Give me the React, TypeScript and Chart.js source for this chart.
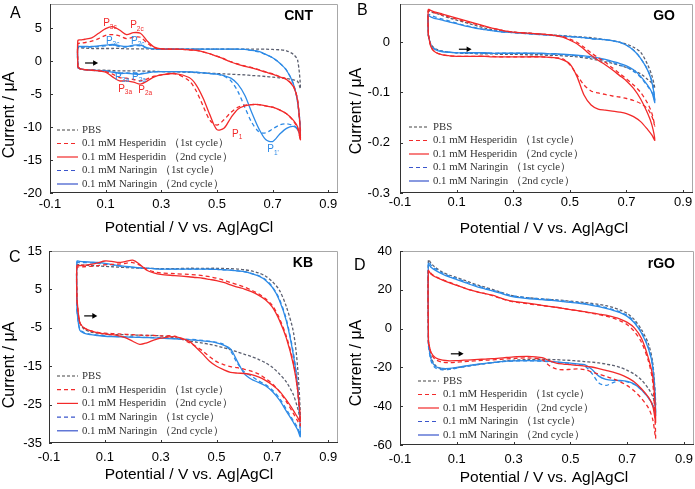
import React, { useEffect, useRef } from "react";
import { Chart, registerables } from "chart.js";

Chart.register(...registerables);

// ---------- shared data ----------
// potential grid (V vs Ag|AgCl), used for forward (anodic) and reverse scans
const potentials = [0, 0.01, 0.025, 0.05, 0.075, 0.1, 0.125, 0.15, 0.175, 0.2, 0.225, 0.25, 0.275, 0.3, 0.35, 0.4, 0.425, 0.45, 0.475, 0.5, 0.525, 0.55, 0.575, 0.6, 0.625, 0.65, 0.675, 0.7, 0.725, 0.75, 0.775, 0.79, 0.8];
const xTicks = [-0.1, 0.1, 0.3, 0.5, 0.7, 0.9];
const legendLabels = ["PBS", "0.1 mM Hesperidin （1st cycle）", "0.1 mM Hesperidin （2nd cycle）", "0.1 mM Naringin （1st cycle）", "0.1 mM Naringin （2nd cycle）"];
const xTitle = "Potential / V vs. Ag|AgCl";
const yTitle = "Current / μA";

// ---------- panel A: CNT (μA) ----------
const aPbsF = [-1.0, -1.2, -1.3, -1.35, -1.4, -1.4, -1.45, -1.5, -1.5, -1.5, -1.5, -1.55, -1.55, -1.6, -1.65, -1.7, -1.75, -1.8, -1.85, -1.9, -1.95, -2.0, -2.05, -2.1, -2.2, -2.25, -2.35, -2.45, -2.55, -2.65, -2.85, -3.1, -4.2];
const aPbsR = [2.0, 2.0, 1.95, 1.9, 1.9, 1.9, 1.9, 1.9, 1.85, 1.85, 1.85, 1.85, 1.8, 1.8, 1.8, 1.8, 1.8, 1.8, 1.8, 1.8, 1.8, 1.8, 1.8, 1.8, 1.8, 1.8, 1.8, 1.75, 1.7, 1.55, 1.0, 0.1, -4.2];
const aHes1F = [-0.9, -1.2, -1.3, -1.4, -1.5, -1.6, -2.0, -2.5, -2.6, -2.8, -3.0, -2.7, -2.3, -2.1, -1.95, -3.0, -4.5, -6.8, -9.0, -9.7, -8.9, -7.8, -7.0, -6.7, -6.6, -6.6, -6.8, -7.0, -7.4, -8.0, -9.1, -10.2, -11.9];
const aHes1R = [2.6, 2.7, 2.8, 3.0, 3.4, 3.9, 4.0, 3.8, 3.4, 3.6, 3.6, 2.7, 2.0, 1.85, 1.8, 1.7, 1.6, 1.4, 1.1, 0.75, 0.35, -0.1, -0.45, -0.75, -1.0, -1.3, -1.65, -1.95, -2.35, -2.75, -3.8, -6.0, -11.9];
const aHes2F = [-0.9, -1.2, -1.3, -1.4, -1.5, -1.7, -2.4, -3.0, -3.0, -3.2, -3.5, -3.0, -2.4, -2.1, -1.9, -2.5, -3.6, -5.6, -8.2, -10.4, -10.2, -8.6, -7.3, -6.8, -6.6, -6.6, -6.8, -7.0, -7.4, -8.0, -9.0, -10.0, -11.9];
const aHes2R = [3.1, 3.2, 3.3, 3.5, 4.2, 4.9, 5.2, 4.7, 4.0, 4.3, 4.2, 3.0, 2.1, 1.85, 1.8, 1.7, 1.6, 1.4, 1.1, 0.7, 0.3, -0.15, -0.5, -0.8, -1.05, -1.35, -1.7, -2.0, -2.4, -2.8, -3.9, -6.0, -11.9];
const aNar1F = [-1.0, -1.2, -1.3, -1.4, -1.45, -1.5, -1.65, -1.8, -1.8, -1.9, -1.9, -1.75, -1.65, -1.6, -1.6, -1.65, -1.7, -1.8, -1.9, -2.0, -2.3, -3.0, -4.6, -7.0, -9.3, -10.7, -10.9, -10.3, -9.7, -9.5, -9.8, -10.2, -10.6];
const aNar1R = [2.1, 2.1, 2.1, 2.1, 2.2, 2.3, 2.4, 2.2, 2.1, 2.3, 2.3, 1.95, 1.85, 1.8, 1.8, 1.8, 1.8, 1.8, 1.8, 1.8, 1.8, 1.8, 1.8, 1.75, 1.6, 1.4, 1.0, 0.5, -0.3, -1.4, -3.5, -6.2, -10.6];
const aNar2F = [-1.0, -1.2, -1.3, -1.4, -1.45, -1.5, -1.7, -1.9, -1.85, -1.95, -2.0, -1.8, -1.65, -1.6, -1.6, -1.65, -1.7, -1.8, -1.9, -2.0, -2.2, -2.6, -3.5, -5.2, -7.8, -10.2, -11.9, -12.2, -11.1, -10.2, -9.9, -10.4, -11.3];
const aNar2R = [2.2, 2.2, 2.2, 2.2, 2.3, 2.4, 2.5, 2.3, 2.2, 2.4, 2.4, 2.0, 1.85, 1.8, 1.8, 1.8, 1.8, 1.8, 1.8, 1.8, 1.8, 1.8, 1.8, 1.75, 1.6, 1.45, 1.0, 0.5, -0.3, -1.4, -3.5, -6.3, -11.3];

// ---------- panel B: GO (μA) ----------
const bPbsF = [0.012, -0.005, -0.013, -0.018, -0.02, -0.021, -0.022, -0.022, -0.023, -0.023, -0.023, -0.024, -0.024, -0.024, -0.025, -0.025, -0.026, -0.026, -0.027, -0.028, -0.029, -0.031, -0.033, -0.036, -0.039, -0.042, -0.046, -0.05, -0.056, -0.063, -0.074, -0.082, -0.092];
const bPbsR = [0.062, 0.06, 0.058, 0.053, 0.048, 0.044, 0.04, 0.036, 0.032, 0.028, 0.025, 0.023, 0.021, 0.02, 0.018, 0.016, 0.015, 0.014, 0.013, 0.012, 0.011, 0.01, 0.009, 0.007, 0.005, 0.003, 0.0, -0.004, -0.01, -0.02, -0.045, -0.067, -0.092];
const bHes1F = [0.015, -0.01, -0.02, -0.025, -0.027, -0.028, -0.028, -0.028, -0.028, -0.028, -0.028, -0.029, -0.029, -0.029, -0.029, -0.029, -0.03, -0.031, -0.033, -0.045, -0.065, -0.085, -0.097, -0.101, -0.104, -0.107, -0.109, -0.112, -0.116, -0.122, -0.133, -0.148, -0.167];
const bHes1R = [0.063, 0.061, 0.058, 0.054, 0.05, 0.046, 0.042, 0.038, 0.035, 0.031, 0.028, 0.025, 0.022, 0.02, 0.018, 0.016, 0.015, 0.013, 0.011, 0.006, 0.0, -0.01, -0.021, -0.031, -0.04, -0.051, -0.062, -0.073, -0.085, -0.1, -0.122, -0.142, -0.167];
const bHes2F = [0.015, -0.01, -0.02, -0.025, -0.027, -0.028, -0.028, -0.028, -0.028, -0.028, -0.029, -0.029, -0.029, -0.029, -0.029, -0.029, -0.03, -0.031, -0.035, -0.043, -0.068, -0.105, -0.125, -0.133, -0.135, -0.137, -0.139, -0.142, -0.148, -0.158, -0.174, -0.185, -0.195];
const bHes2R = [0.065, 0.063, 0.06, 0.056, 0.052, 0.048, 0.044, 0.04, 0.036, 0.032, 0.028, 0.025, 0.022, 0.02, 0.018, 0.016, 0.015, 0.013, 0.01, 0.004, -0.003, -0.014, -0.026, -0.036, -0.045, -0.055, -0.066, -0.077, -0.092, -0.113, -0.142, -0.165, -0.195];
const bNar1F = [0.015, -0.006, -0.014, -0.018, -0.02, -0.021, -0.021, -0.021, -0.022, -0.022, -0.022, -0.022, -0.022, -0.022, -0.022, -0.023, -0.023, -0.024, -0.025, -0.026, -0.027, -0.029, -0.031, -0.033, -0.036, -0.04, -0.045, -0.05, -0.058, -0.07, -0.088, -0.1, -0.115];
const bNar1R = [0.055, 0.053, 0.05, 0.046, 0.042, 0.038, 0.034, 0.031, 0.028, 0.025, 0.023, 0.021, 0.02, 0.019, 0.017, 0.015, 0.014, 0.013, 0.012, 0.011, 0.01, 0.009, 0.007, 0.006, 0.005, 0.003, 0.0, -0.006, -0.016, -0.032, -0.055, -0.078, -0.115];
const bNar2F = [0.015, -0.008, -0.015, -0.019, -0.02, -0.021, -0.021, -0.021, -0.021, -0.021, -0.022, -0.022, -0.022, -0.022, -0.022, -0.022, -0.023, -0.023, -0.024, -0.025, -0.026, -0.027, -0.029, -0.031, -0.034, -0.038, -0.042, -0.047, -0.055, -0.068, -0.086, -0.1, -0.12];
const bNar2R = [0.052, 0.05, 0.047, 0.044, 0.04, 0.037, 0.033, 0.03, 0.027, 0.025, 0.023, 0.021, 0.02, 0.019, 0.017, 0.015, 0.014, 0.013, 0.012, 0.011, 0.01, 0.009, 0.007, 0.006, 0.005, 0.003, 0.0, -0.006, -0.016, -0.032, -0.056, -0.08, -0.12];

// ---------- panel C: KB (μA) ----------
const cPbsF = [1.5, -3.6, -5.3, -6.1, -6.4, -6.6, -6.7, -6.8, -6.8, -6.9, -6.9, -7.0, -7.0, -7.1, -7.6, -8.4, -8.7, -9.0, -9.3, -9.7, -10.2, -10.7, -11.3, -11.9, -12.5, -13.2, -14.1, -15.3, -17.0, -19.1, -22.4, -25.8, -28.5];
const cPbsR = [11.4, 11.4, 11.3, 11.2, 11.1, 11.0, 10.9, 10.8, 10.7, 10.6, 10.55, 10.5, 10.45, 10.4, 10.4, 10.5, 10.5, 10.5, 10.5, 10.5, 10.45, 10.4, 10.3, 10.1, 9.8, 9.3, 8.5, 7.0, 4.8, 0.5, -6.0, -15.0, -28.5];
const cHes1F = [2.0, -3.5, -5.0, -5.8, -6.2, -6.4, -6.5, -6.6, -6.7, -6.8, -6.9, -7.0, -7.0, -7.1, -7.2, -8.8, -9.8, -11.0, -12.5, -13.8, -14.6, -15.1, -15.4, -15.8, -16.3, -17.0, -18.2, -19.6, -21.6, -24.2, -27.3, -29.2, -30.5];
const cHes1R = [10.8, 10.8, 10.9, 11.0, 11.2, 11.4, 11.5, 11.6, 11.8, 12.0, 11.3, 10.3, 9.6, 9.3, 9.1, 8.9, 8.8, 8.6, 8.3, 7.9, 7.4, 6.8, 6.2, 5.6, 4.8, 3.9, 2.6, 0.8, -2.5, -7.2, -14.0, -21.0, -30.5];
const cHes2F = [2.5, -3.6, -5.0, -5.8, -6.3, -6.6, -6.8, -7.1, -7.6, -8.5, -9.3, -8.9, -8.2, -7.7, -7.3, -8.4, -10.0, -11.8, -13.7, -15.0, -15.9, -16.6, -16.8, -16.9, -17.2, -17.8, -18.7, -19.9, -21.5, -23.8, -26.5, -28.3, -29.4];
const cHes2R = [11.2, 11.2, 11.3, 11.5, 11.9, 12.4, 12.3, 12.0, 12.3, 12.6, 11.5, 10.0, 9.3, 8.9, 8.6, 8.3, 8.1, 7.9, 7.6, 7.3, 6.8, 6.2, 5.6, 5.1, 4.4, 3.5, 2.3, 0.4, -3.0, -7.7, -14.5, -21.0, -29.4];
const cNar1F = [-0.5, -5.3, -6.2, -6.7, -6.9, -7.1, -7.2, -7.3, -7.35, -7.4, -7.45, -7.5, -7.55, -7.6, -7.8, -8.0, -8.1, -8.3, -8.5, -8.8, -9.3, -11.0, -14.3, -16.5, -17.6, -18.8, -19.8, -21.2, -23.3, -26.2, -29.2, -31.0, -33.0];
const cNar1R = [12.0, 12.0, 12.0, 11.9, 11.8, 11.6, 11.4, 11.1, 10.9, 10.7, 10.6, 10.5, 10.4, 10.3, 10.3, 10.3, 10.3, 10.3, 10.3, 10.2, 10.1, 10.0, 9.8, 9.6, 9.2, 8.6, 7.6, 5.7, 2.5, -2.8, -11.5, -20.0, -33.0];
const cNar2F = [-0.5, -5.6, -6.4, -6.8, -7.0, -7.2, -7.3, -7.35, -7.4, -7.45, -7.5, -7.55, -7.6, -7.7, -7.9, -8.1, -8.2, -8.4, -8.6, -8.9, -9.5, -10.5, -13.8, -17.0, -18.4, -19.2, -20.1, -21.6, -23.8, -26.7, -29.6, -31.5, -33.3];
const cNar2R = [12.3, 12.3, 12.2, 12.1, 12.0, 11.8, 11.5, 11.2, 11.0, 10.8, 10.6, 10.5, 10.4, 10.3, 10.3, 10.3, 10.3, 10.3, 10.25, 10.2, 10.1, 10.0, 9.8, 9.6, 9.1, 8.5, 7.4, 5.5, 2.2, -3.2, -12.0, -20.0, -33.3];

// ---------- panel D: rGO (μA) ----------
const dPbsF = [-6.0, -15.0, -19.0, -20.8, -20.8, -20.2, -19.6, -19.0, -18.5, -18.0, -17.5, -17.0, -16.6, -16.3, -15.9, -15.8, -15.9, -16.0, -16.2, -16.4, -16.7, -17.0, -17.3, -17.7, -18.3, -19.0, -20.0, -21.5, -23.5, -26.5, -31.0, -35.0, -40.0];
const dPbsR = [35.5, 33.5, 31.5, 29.0, 27.5, 26.3, 25.0, 23.6, 22.4, 21.3, 20.2, 19.0, 17.8, 16.8, 15.9, 15.3, 15.0, 14.8, 14.5, 14.1, 13.8, 13.4, 13.0, 12.5, 11.8, 10.9, 9.6, 7.8, 4.6, -0.5, -8.0, -18.0, -40.0];
const dHes1F = [-7.0, -13.0, -16.0, -17.3, -17.5, -17.3, -17.0, -16.8, -16.5, -16.3, -16.1, -15.9, -15.6, -15.4, -15.1, -16.0, -19.0, -20.8, -21.2, -21.0, -20.8, -21.2, -22.3, -23.5, -24.6, -25.9, -27.4, -29.4, -32.2, -36.0, -41.0, -47.0, -56.5];
const dHes1R = [30.0, 28.3, 26.8, 25.2, 23.8, 22.4, 21.0, 19.8, 18.8, 18.0, 17.0, 15.8, 14.6, 13.8, 12.8, 11.9, 11.4, 10.9, 10.4, 9.8, 9.2, 8.6, 7.9, 7.2, 6.4, 5.4, 4.0, 2.0, -1.5, -7.0, -17.0, -28.0, -56.5];
const dHes2F = [-7.0, -12.5, -15.0, -16.3, -16.6, -16.5, -16.3, -16.1, -15.9, -15.7, -15.5, -15.2, -14.9, -14.6, -14.3, -15.0, -16.5, -17.8, -18.3, -18.6, -19.0, -19.3, -19.8, -20.6, -21.5, -22.4, -23.6, -25.3, -27.5, -31.0, -35.5, -40.0, -48.3];
const dHes2R = [29.7, 28.0, 26.6, 25.0, 23.6, 22.3, 21.0, 19.8, 18.8, 18.0, 17.2, 16.0, 14.8, 14.0, 13.1, 12.0, 11.5, 11.0, 10.4, 9.8, 9.3, 8.7, 8.1, 7.5, 6.9, 6.0, 4.9, 3.2, 0.4, -5.0, -15.5, -25.0, -48.3];
const dNar1F = [-9.0, -17.0, -20.3, -21.2, -21.0, -20.4, -19.7, -19.1, -18.5, -18.0, -17.6, -17.2, -16.9, -16.7, -16.6, -16.8, -17.0, -17.4, -17.7, -18.0, -18.4, -19.2, -23.0, -28.0, -29.3, -27.8, -26.9, -27.4, -28.8, -31.6, -35.8, -39.5, -44.0];
const dNar1R = [34.5, 32.5, 30.8, 28.6, 27.0, 25.8, 24.5, 23.1, 21.9, 20.8, 19.8, 18.8, 17.7, 16.8, 15.9, 15.3, 15.0, 14.7, 14.3, 13.9, 13.5, 13.0, 12.6, 11.7, 10.8, 9.8, 8.6, 6.8, 3.6, -1.8, -10.0, -20.0, -44.0];
const dNar2F = [-8.0, -16.0, -19.5, -20.5, -20.5, -20.0, -19.4, -18.9, -18.3, -17.9, -17.5, -17.1, -16.8, -16.6, -16.5, -16.6, -16.9, -17.2, -17.5, -17.8, -18.2, -18.6, -21.0, -24.5, -26.2, -26.7, -26.7, -27.2, -28.6, -31.5, -35.7, -39.5, -44.8];
const dNar2R = [33.0, 31.5, 30.0, 28.0, 26.5, 25.3, 24.0, 22.6, 21.4, 20.4, 19.4, 18.4, 17.3, 16.4, 15.5, 14.9, 14.6, 14.3, 13.9, 13.5, 13.1, 12.6, 12.0, 11.3, 10.4, 9.4, 8.2, 6.3, 3.0, -2.3, -10.5, -20.0, -44.8];

// ---------- peak annotations (panel A) ----------
const peakSubs = ["3c", "2c", "3c", "2c", "3a", "2a", "3a", "2a", "1", "1'"];
const peakX = [0.091, 0.188, 0.101, 0.191, 0.134, 0.195, 0.145, 0.217, 0.554, 0.681];
const peakY = [5.3, 5.0, 2.6, 2.6, -2.85, -2.85, -4.65, -4.8, -11.45, -13.85];
const peakIsRed = [true, true, false, false, false, false, true, true, true, false];

// ---------- styles ----------
const RED = "#f22a2a";
const BLUE = "#2d8ae6";
const GRAY = "#5c6070";
const FONT = '"Liberation Sans", Arial, Helvetica, sans-serif';
const SERIF = '"Liberation Serif", "Times New Roman", serif';
const seriesStyles = [
  { color: GRAY, legend: "#444444", dash: [3, 2] },
  { color: RED, legend: RED, dash: [4, 3] },
  { color: RED, legend: RED, dash: [] as number[] },
  { color: BLUE, legend: "#3a55cc", dash: [4, 3] },
  { color: BLUE, legend: "#3a55cc", dash: [] as number[] },
];

interface PanelDef {
  letter: string;
  name: string;
  left: number;
  top: number;
  width: number;
  height: number;
  area: { l: number; t: number; r: number; b: number };
  yMin: number;
  yMax: number;
  yTicks: number[];
  series: number[][][];
  xTickPad: number;
  yTickPad: number;
  legend: { x0: number; x1: number; tx: number; y0: number; dy: number };
  arrow: number[];
  xTitlePos: number[];
  yTitlePos: number[];
  letterPos: number[];
  namePos: number[];
  peaks: boolean;
}

const panels: PanelDef[] = [
  {
    letter: "A", name: "CNT", left: 0, top: 0, width: 347, height: 245,
    area: { l: 50, t: 4, r: 338, b: 193 }, yMin: -20, yMax: 8.64, yTicks: [-20, -15, -10, -5, 0, 5],
    series: [[aPbsF, aPbsR], [aHes1F, aHes1R], [aHes2F, aHes2R], [aNar1F, aNar1R], [aNar2F, aNar2R]],
    xTickPad: 4, yTickPad: 8,
    legend: { x0: 57, x1: 78, tx: 82, y0: 130, dy: 13.5 },
    arrow: [0.026, 0.073, -0.3], xTitlePos: [189, 228], yTitlePos: [10, 115], letterPos: [10, 18], namePos: [313, 20], peaks: true,
  },
  {
    letter: "B", name: "GO", left: 347, top: 0, width: 360, height: 245,
    area: { l: 53, t: 4, r: 346, b: 193 }, yMin: -0.3, yMax: 0.076, yTicks: [-0.3, -0.2, -0.1, 0],
    series: [[bPbsF, bPbsR], [bHes1F, bHes1R], [bHes2F, bHes2R], [bNar1F, bNar1R], [bNar2F, bNar2R]],
    xTickPad: 2, yTickPad: 10,
    legend: { x0: 62, x1: 82, tx: 86, y0: 127, dy: 13.5 },
    arrow: [0.108, 0.153, -0.014], xTitlePos: [197, 229], yTitlePos: [10, 111], letterPos: [10, 15], namePos: [328, 20], peaks: false,
  },
  {
    letter: "C", name: "KB", left: 0, top: 245, width: 347, height: 244,
    area: { l: 49, t: 6, r: 338, b: 198 }, yMin: -35, yMax: 15, yTicks: [-35, -25, -15, -5, 5, 15],
    series: [[cPbsF, cPbsR], [cHes1F, cHes1R], [cHes2F, cHes2R], [cNar1F, cNar1R], [cNar2F, cNar2R]],
    xTickPad: 7, yTickPad: 7,
    legend: { x0: 57, x1: 78, tx: 82, y0: 131, dy: 13.7 },
    arrow: [0.026, 0.073, -1.9], xTitlePos: [189, 230], yTitlePos: [10, 120], letterPos: [9, 17], namePos: [313, 22], peaks: false,
  },
  {
    letter: "D", name: "rGO", left: 347, top: 245, width: 360, height: 244,
    area: { l: 53, t: 6, r: 347, b: 200 }, yMin: -60, yMax: 40, yTicks: [-60, -40, -20, 0, 20, 40],
    series: [[dPbsF, dPbsR], [dHes1F, dHes1R], [dHes2F, dHes2R], [dNar1F, dNar1R], [dNar2F, dNar2R]],
    xTickPad: 7, yTickPad: 8,
    legend: { x0: 71, x1: 92, tx: 96, y0: 136, dy: 13.5 },
    arrow: [0.079, 0.124, -13], xTitlePos: [197, 233], yTitlePos: [10, 118], letterPos: [7, 25], namePos: [328, 23], peaks: false,
  },
];

function cvLoop(fwd: number[], rev: number[]) {
  const pts = potentials.map((x, i) => ({ x, y: fwd[i] }));
  for (let i = potentials.length - 2; i >= 0; i--) pts.push({ x: potentials[i], y: rev[i] });
  pts.push({ x: potentials[0], y: fwd[0] });
  return pts;
}

function makeDecor(p: PanelDef) {
  return {
    id: "decor" + p.letter,
    afterDraw(chart: any) {
      const { ctx, chartArea: a } = chart;
      const xs = chart.scales.x;
      const ys = chart.scales.y;
      ctx.save();
      ctx.setLineDash([]);
      ctx.lineWidth = 1;
      // frame
      ctx.strokeStyle = "#a8a8a8";
      ctx.beginPath();
      ctx.moveTo(a.left, a.top + 0.5);
      ctx.lineTo(a.right - 0.5, a.top + 0.5);
      ctx.lineTo(a.right - 0.5, a.bottom);
      ctx.stroke();
      ctx.strokeStyle = "#333";
      ctx.beginPath();
      ctx.moveTo(a.left + 0.5, a.top);
      ctx.lineTo(a.left + 0.5, a.bottom - 0.5);
      ctx.lineTo(a.right, a.bottom - 0.5);
      ctx.stroke();
      // inward ticks
      ctx.beginPath();
      xTicks.forEach((v) => {
        const px = Math.round(xs.getPixelForValue(v)) + 0.5;
        ctx.moveTo(px, a.bottom);
        ctx.lineTo(px, a.bottom - 3);
      });
      p.yTicks.forEach((v) => {
        const py = Math.round(ys.getPixelForValue(v)) + 0.5;
        ctx.moveTo(a.left, py);
        ctx.lineTo(a.left + 3, py);
      });
      ctx.stroke();

      // legend
      ctx.font = "10.8px " + SERIF;
      ctx.textAlign = "left";
      ctx.textBaseline = "middle";
      legendLabels.forEach((label, i) => {
        const y = p.legend.y0 + i * p.legend.dy;
        const st = seriesStyles[i];
        ctx.strokeStyle = st.legend;
        ctx.lineWidth = 1.2;
        ctx.setLineDash(st.dash);
        ctx.beginPath();
        ctx.moveTo(p.legend.x0, y);
        ctx.lineTo(p.legend.x1, y);
        ctx.stroke();
        ctx.setLineDash([]);
        ctx.fillStyle = "#333";
        ctx.fillText(label, p.legend.tx, y);
      });

      // scan direction arrow
      const ax1 = xs.getPixelForValue(p.arrow[0]);
      const ax2 = xs.getPixelForValue(p.arrow[1]);
      const ay = ys.getPixelForValue(p.arrow[2]);
      ctx.strokeStyle = "#000";
      ctx.fillStyle = "#000";
      ctx.lineWidth = 1.2;
      ctx.beginPath();
      ctx.moveTo(ax1, ay);
      ctx.lineTo(ax2 - 4, ay);
      ctx.stroke();
      ctx.beginPath();
      ctx.moveTo(ax2, ay);
      ctx.lineTo(ax2 - 5, ay - 2.8);
      ctx.lineTo(ax2 - 5, ay + 2.8);
      ctx.closePath();
      ctx.fill();

      // peak labels
      if (p.peaks) {
        peakSubs.forEach((sub, i) => {
          const px = xs.getPixelForValue(peakX[i]);
          const py = ys.getPixelForValue(peakY[i]);
          ctx.fillStyle = peakIsRed[i] ? RED : BLUE;
          ctx.textBaseline = "alphabetic";
          ctx.font = "10px " + FONT;
          ctx.fillText("P", px, py);
          const w = ctx.measureText("P").width;
          ctx.font = "6.5px " + FONT;
          ctx.fillText(sub, px + w, py + 2.5);
        });
      }

      // titles
      ctx.fillStyle = "#000";
      ctx.font = "15.5px " + FONT;
      ctx.textAlign = "center";
      ctx.textBaseline = "middle";
      ctx.fillText(xTitle, p.xTitlePos[0], p.xTitlePos[1]);
      ctx.font = "16px " + FONT;
      ctx.save();
      ctx.translate(p.yTitlePos[0], p.yTitlePos[1]);
      ctx.rotate(-Math.PI / 2);
      ctx.fillText(yTitle, 0, 0);
      ctx.restore();
      ctx.textAlign = "left";
      ctx.textBaseline = "alphabetic";
      ctx.font = "16px " + FONT;
      ctx.fillText(p.letter, p.letterPos[0], p.letterPos[1]);
      ctx.textAlign = "right";
      ctx.font = "bold 14px " + FONT;
      ctx.fillText(p.name, p.namePos[0], p.namePos[1]);
      ctx.restore();
    },
  };
}

function buildConfig(p: PanelDef): any {
  const drawOrder = [2, 1, 4, 3, 0];
  const datasets = drawOrder.map((i) => ({
    label: legendLabels[i],
    data: cvLoop(p.series[i][0], p.series[i][1]),
    showLine: true,
    borderColor: seriesStyles[i].color,
    borderDash: seriesStyles[i].dash,
    borderWidth: 1.3,
    pointRadius: 0,
    tension: 0.3,
    fill: false,
  }));
  const xH = p.height - p.area.b;
  return {
    type: "scatter",
    data: { datasets },
    options: {
      animation: false,
      responsive: false,
      devicePixelRatio: 1,
      layout: { padding: { left: 0, top: p.area.t, right: p.width - p.area.r, bottom: 0 } },
      plugins: { legend: { display: false }, tooltip: { enabled: false } },
      scales: {
        x: {
          type: "linear",
          min: -0.1,
          max: 0.935,
          grid: { display: false, drawTicks: false },
          border: { display: false },
          ticks: {
            autoSkip: false,
            maxRotation: 0,
            padding: p.xTickPad,
            color: "#000",
            font: { family: FONT, size: 13 },
            callback: (v: number) => Number(v).toFixed(1),
          },
          afterBuildTicks: (s: any) => {
            s.ticks = xTicks.map((value) => ({ value }));
          },
          afterFit: (s: any) => {
            s.height = xH;
            s.paddingLeft = 0;
            s.paddingRight = 0;
          },
        },
        y: {
          type: "linear",
          min: p.yMin,
          max: p.yMax,
          grid: { display: false, drawTicks: false },
          border: { display: false },
          ticks: {
            autoSkip: false,
            padding: p.yTickPad,
            color: "#000",
            font: { family: FONT, size: 13 },
            callback: (v: number) => String(Math.round(Number(v) * 1000) / 1000),
          },
          afterBuildTicks: (s: any) => {
            s.ticks = p.yTicks.map((value) => ({ value }));
          },
          afterFit: (s: any) => {
            s.width = p.area.l;
            s.paddingTop = 0;
            s.paddingBottom = 0;
          },
        },
      },
    },
    plugins: [makeDecor(p)],
  };
}

function CvPanel({ def }: { def: PanelDef }) {
  const ref = useRef<HTMLCanvasElement>(null);
  useEffect(() => {
    const chart = new Chart(ref.current as HTMLCanvasElement, buildConfig(def));
    return () => chart.destroy();
  }, [def]);
  return (
    <canvas
      ref={ref}
      width={def.width}
      height={def.height}
      style={{ position: "absolute", left: def.left, top: def.top, width: def.width, height: def.height }}
    />
  );
}

export default function App() {
  return (
    <div style={{ position: "absolute", left: 0, top: 0, width: 695, height: 489, overflow: "hidden", background: "#fff" }}>
      {panels.map((p) => (
        <CvPanel key={p.letter} def={p} />
      ))}
    </div>
  );
}
